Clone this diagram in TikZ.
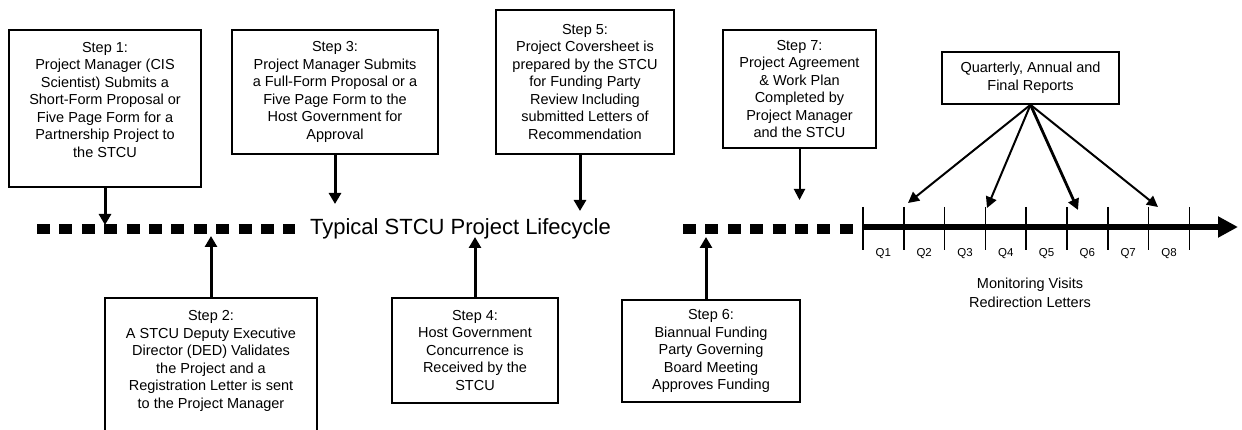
\documentclass[tikz,border=0pt]{standalone}
\usepackage{fontspec}
\setmainfont{Liberation Sans}
\usetikzlibrary{arrows.meta}

\begin{document}
\begin{tikzpicture}[x=1pt, y=-1pt,
    stepbox/.style = {draw, line width=1.6pt, align=center, inner sep=0pt,
        font=\fontsize{14.5}{17.5}\selectfont},
    link/.style = {line width=3pt, -{Triangle[width=12pt,length=11pt]}},
    thinlink/.style = {line width=2pt, -{Triangle[width=11pt,length=11pt]}},
    dots/.style = {line width=10pt, dash pattern=on 13pt off 9.4pt},
    qlabel/.style = {anchor=base, font=\fontsize{11.5}{13}\selectfont}]
    \useasboundingbox (0,0) rectangle (1242,430);

    % steps above the line
    \node[stepbox, minimum width=192, minimum height=157] (s1) at (105,108.5)
        {Step 1:\\Project Manager (CIS\\Scientist) Submits a\\Short-Form Proposal or\\Five Page Form for a\\Partnership Project to\\the STCU\\~};
    \node[stepbox, minimum width=206, minimum height=124] (s3) at (335,92)
        {Step 3:\\Project Manager Submits\\a Full-Form Proposal or a\\Five Page Form to the\\Host Government for\\Approval};
    \node[stepbox, minimum width=178, minimum height=144] (s5) at (585,82)
        {Step 5:\\Project Coversheet is\\prepared by the STCU\\for Funding Party\\Review Including\\submitted Letters of\\Recommendation};
    \node[stepbox, minimum width=153, minimum height=118] (s7) at (799.5,89)
        {Step 7:\\Project Agreement\\\& Work Plan\\Completed by\\Project Manager\\and the STCU};
    \node[stepbox, minimum width=177, minimum height=52] (rep) at (1030.5,78)
        {Quarterly, Annual and\\Final Reports};

    % steps below the line
    \node[stepbox, minimum width=212, minimum height=140] (s2) at (211,368)
        {Step 2:\\A STCU Deputy Executive\\Director (DED) Validates\\the Project and a\\Registration Letter is sent\\to the Project Manager\\~};
    \node[stepbox, minimum width=166, minimum height=105] (s4) at (475,350.5)
        {Step 4:\\Host Government\\Concurrence is\\Received by the\\STCU};
    \node[stepbox, minimum width=178, minimum height=102] (s6) at (711,351)
        {Step 6:\\Biannual Funding\\Party Governing\\Board Meeting\\Approves Funding};

    % lifecycle line
    \draw[dots] (37,229) -- (295,229);
    \node[anchor=base, font=\fontsize{22}{26}\selectfont] (title) at (460.5,235)
        {Typical STCU Project Lifecycle};
    \draw[dots] (683,229) -- (853,229);

    % quarters
    \coordinate (t0) at (863,227);
    \coordinate (tend) at (1238,227);
    \draw[line width=6pt, -{Triangle[width=20pt,length=20pt]}] (t0) -- (tend);
    \foreach \i in {0,...,8}
        \draw[line width=1.6pt] (863+40.8*\i,207) -- (863+40.8*\i,250);
    \foreach \i in {1,...,8}
        \node[qlabel] (q\i) at (863+40.8*\i-20.4,257) {Q\i};
    \node[align=center, font=\fontsize{14.5}{19}\selectfont] (mon) at (1030,293)
        {Monitoring Visits\\Redirection Letters};

    % arrows to the line
    \coordinate (a1) at (105,225);
    \coordinate (a3) at (335,204);
    \coordinate (a5) at (580,211);
    \coordinate (a7) at (799.5,200);
    \coordinate (a2) at (211,236);
    \coordinate (a4) at (475,237);
    \coordinate (a6) at (706,237);
    \draw[link] (s1.south) -- (a1);
    \draw[link] (s3.south) -- (a3);
    \draw[link] ([xshift=-5pt]s5.south) -- (a5);
    \draw[thinlink] (s7.south) -- (a7);
    \draw[link] (s2.north) -- (a2);
    \draw[link] (s4.north) -- (a4);
    \draw[link] ([xshift=-5pt]s6.north) -- (a6);

    % reports
    \coordinate (r1) at (908,203);
    \coordinate (r2) at (987,208);
    \coordinate (r3) at (1078,210);
    \coordinate (r4) at (1158,207);
    \draw[thinlink] (rep.south) -- (r1);
    \draw[thinlink] (rep.south) -- (r2);
    \draw[thinlink, line width=2.8pt] (rep.south) -- (r3);
    \draw[thinlink] (rep.south) -- (r4);
\end{tikzpicture}
\end{document}
